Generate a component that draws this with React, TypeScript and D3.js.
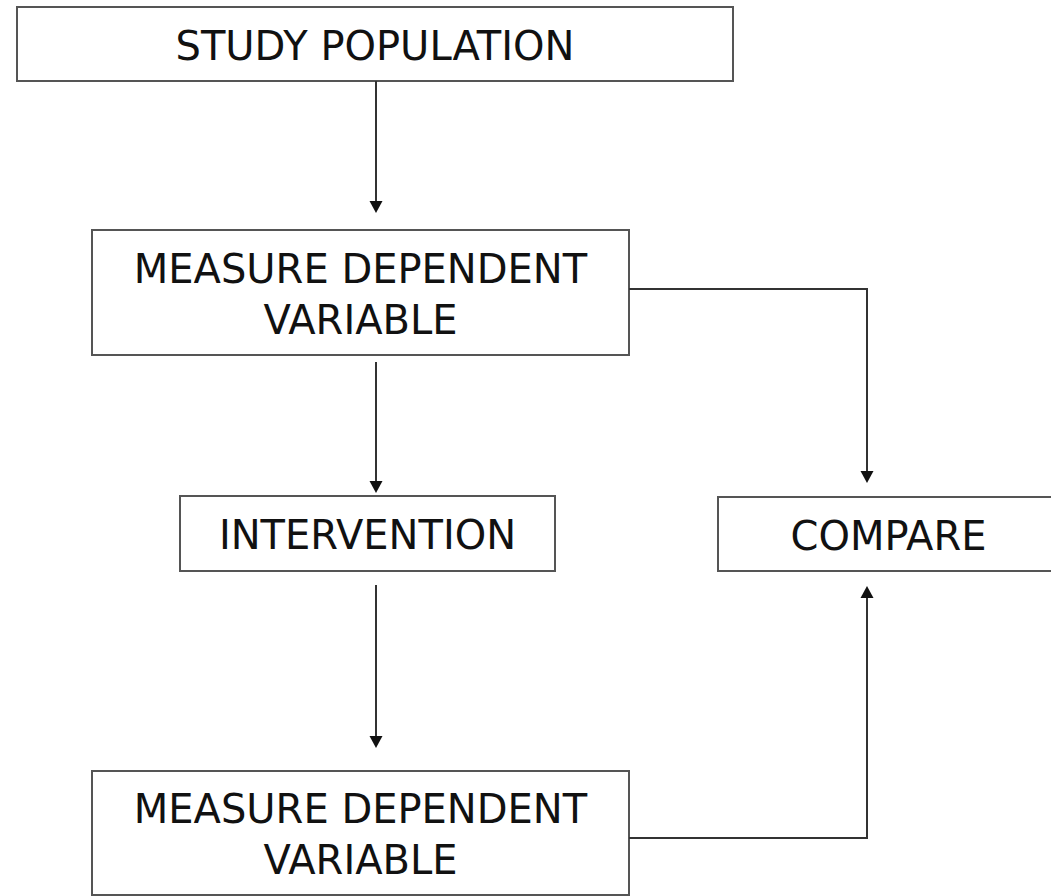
import React from 'react';
import * as d3 from 'd3';

// flowchart content
const nodeIds = ['population', 'measure1', 'intervention', 'compare', 'measure2'];
const nodeLabels = [
  ['STUDY POPULATION'],
  ['MEASURE DEPENDENT', 'VARIABLE'],
  ['INTERVENTION'],
  ['COMPARE'],
  ['MEASURE DEPENDENT', 'VARIABLE'],
];
// [from, to, kind]
const edges = [
  ['population', 'measure1', 'down'],
  ['measure1', 'intervention', 'down'],
  ['intervention', 'measure2', 'down'],
  ['measure1', 'compare', 'elbowDown'],
  ['measure2', 'compare', 'elbowUp'],
];

// layout (pixels)
const width = 1051;
const height = 896;
const boxes = {
  population: { x0: 17, x1: 733, y0: 7, y1: 81 },
  measure1: { x0: 92, x1: 629, y0: 230, y1: 355 },
  intervention: { x0: 180, x1: 555, y0: 496, y1: 571 },
  compare: { x0: 718, x1: 1059, y0: 497, y1: 571 },
  measure2: { x0: 92, x1: 629, y0: 771, y1: 895 },
};
const spineX = 376;
const compareX = 867;
const gaps = [
  [0, 17],
  [7, 3],
  [14, 23],
  [0, 14],
  [0, 15],
];
const elbowY = { measure1: 289, measure2: 838 };

const fontSize = 40;
const lineH = 51;
const capH = fontSize * 0.729;
const lineColor = '#333';
const boxColor = '#555';

const arrowHead = (x: number, y: number, dir: number) => {
  // tip at (x, y); dir 1 = pointing down, -1 = pointing up
  const len = 12;
  const half = 6.5;
  return `M${x},${y}L${x - half},${y - dir * len}L${x + half},${y - dir * len}Z`;
};

const App = () => {
  const line = d3.line<[number, number]>();

  const routes = edges.map(([from, to, kind], i) => {
    const a = boxes[from];
    const b = boxes[to];
    const [g0, g1] = gaps[i];
    let pts: [number, number][] = [];
    let dir = 1;
    if (kind === 'down') {
      pts = [[spineX, a.y1 + g0], [spineX, b.y0 - g1]];
    } else if (kind === 'elbowDown') {
      const y = elbowY[from];
      pts = [[a.x1 + g0, y], [compareX, y], [compareX, b.y0 - g1]];
    } else {
      const y = elbowY[from];
      pts = [[a.x1 + g0, y], [compareX, y], [compareX, b.y1 + g1]];
      dir = -1;
    }
    return { pts, dir };
  });

  return (
    <svg
      width={width}
      height={height}
      style={{ position: 'absolute', left: 0, top: 0, background: '#fff' }}
    >
      <rect width={width} height={height} fill="#fff" />
      {nodeIds.map((id, i) => {
        const b = boxes[id];
        const cx = (b.x0 + b.x1) / 2;
        const cy = (b.y0 + b.y1) / 2;
        const lines = nodeLabels[i];
        return (
          <g key={id}>
            <rect
              x={b.x0}
              y={b.y0}
              width={b.x1 - b.x0}
              height={b.y1 - b.y0}
              fill="#fff"
              stroke={boxColor}
              strokeWidth={2}
            />
            {lines.map((t, j) => (
              <text
                key={j}
                x={cx}
                y={cy + capH / 2 + (j - (lines.length - 1) / 2) * lineH + 1}
                textAnchor="middle"
                fontFamily="'DejaVu Sans', Verdana, sans-serif"
                fontSize={fontSize}
                fill="#111"
              >
                {t}
              </text>
            ))}
          </g>
        );
      })}
      {routes.map((r, i) => {
        const end = r.pts[r.pts.length - 1];
        const shaft = r.pts.slice();
        shaft[shaft.length - 1] = [end[0], end[1] - r.dir * 10];
        return (
          <g key={i}>
            <path d={line(shaft) || ''} fill="none" stroke={lineColor} strokeWidth={2} />
            <path d={arrowHead(end[0], end[1], r.dir)} fill="#111" />
          </g>
        );
      })}
    </svg>
  );
};

export default App;
